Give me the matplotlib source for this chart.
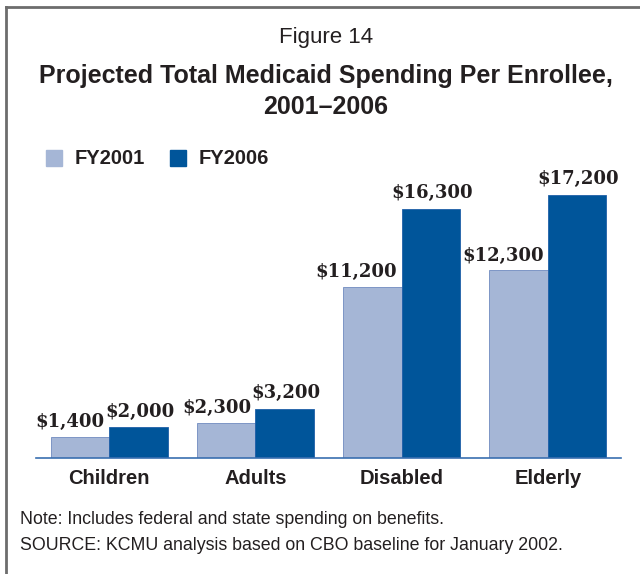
import matplotlib
matplotlib.use("Agg")
import matplotlib.pyplot as plt
import numpy as np
from matplotlib.patches import Rectangle
from matplotlib.lines import Line2D

# spending per enrollee, dollars
categorias = ["Children", "Adults", "Disabled", "Elderly"]
fy2001 = [1400, 2300, 11200, 12300]
fy2006 = [2000, 3200, 16300, 17200]
series = ["FY2001", "FY2006"]

claro = "#A5B6D6"
oscuro = "#00559A"
texto = "#231F20"

sans = ["Liberation Sans", "DejaVu Sans"]
serif = ["DejaVu Serif"]

fig = plt.figure(figsize=(6.4, 5.74), dpi=100)
W, H = 640.0, 574.0

def fx(px):
	return px / W

def fy(py):
	return 1 - py / H

# marco: solo arriba y a la izquierda
fig.add_artist(Line2D([fx(6), 1.0], [fy(7), fy(7)], color="#6D6D6D", lw=2))
fig.add_artist(Line2D([fx(6), fx(6)], [fy(7), 0.0], color="#6D6D6D", lw=2))

cx = fx(326)
fig.text(cx, fy(38), "Figure 14", ha="center", va="center", fontsize=16,
	family=sans, color=texto)
fig.text(cx, fy(76), "Projected Total Medicaid Spending Per Enrollee,", ha="center",
	va="center", fontsize=18, fontweight="bold", family=sans, color=texto)
fig.text(cx, fy(107), "2001\u20132006", ha="center", va="center", fontsize=18,
	fontweight="bold", family=sans, color=texto)

# leyenda
for x0, color, nombre in [(46, claro, series[0]), (170, oscuro, series[1])]:
	fig.add_artist(Rectangle((fx(x0), fy(166)), 16 / W, 16 / H, color=color,
		transform=fig.transFigure))
	fig.text(fx(x0 + 29), fy(158), nombre, ha="left", va="center", fontsize=14.5,
		fontweight="bold", family=sans, color=texto)

ax = fig.add_axes([fx(36), fy(458), fx(621) - fx(36), fy(183) - fy(458)])

x = np.arange(len(categorias))
ancho = 0.4
b1 = ax.bar(x - ancho / 2, fy2001, ancho, color=claro, edgecolor="#6F8BC0", linewidth=0.6)
b2 = ax.bar(x + ancho / 2, fy2006, ancho, color=oscuro, edgecolor="#1F5FA8", linewidth=0.6)

# las etiquetas de FY2001 van pegadas al borde derecho para no chocar
for b in b1:
	v = b.get_height()
	ax.annotate("${:,}".format(v), (b.get_x() + b.get_width(), v), xytext=(-3, 4),
		textcoords="offset points", ha="right", va="bottom", fontsize=13,
		fontweight="bold", family=serif, color=texto)
for b in b2:
	v = b.get_height()
	ax.annotate("${:,}".format(v), (b.get_x() + b.get_width() / 2, v), xytext=(1, 5),
		textcoords="offset points", ha="center", va="bottom", fontsize=13,
		fontweight="bold", family=serif, color=texto)

ax.set_xlim(-0.5, 3.5)
ax.set_ylim(0, 18000)
ax.set_xticks(x)
ax.set_xticklabels(categorias, fontsize=14.5, fontweight="bold", family=sans, color=texto)
ax.tick_params(axis="x", length=0, pad=8)
ax.set_yticks([])
for lado in ["top", "right", "left"]:
	ax.spines[lado].set_visible(False)
ax.spines["bottom"].set_color("#3A6FB0")
ax.spines["bottom"].set_linewidth(1.2)

fig.text(fx(20), fy(520), "Note: Includes federal and state spending on benefits.",
	ha="left", va="center", fontsize=12.8, family=sans, color=texto)
fig.text(fx(20), fy(546), "SOURCE: KCMU analysis based on CBO baseline for January 2002.",
	ha="left", va="center", fontsize=12.8, family=sans, color=texto)

fig.savefig("out.png", dpi=100)
